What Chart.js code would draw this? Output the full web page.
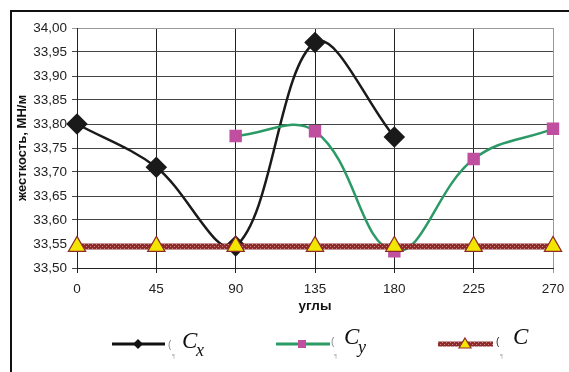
<!DOCTYPE html>
<html>
<head>
<meta charset="utf-8">
<script src="https://cdn.jsdelivr.net/npm/chart.js@4"></script>
<style>
  html, body { margin: 0; padding: 0; background: #fff; }
  #wrap { width: 569px; height: 372px; position: relative; }
</style>
</head>
<body>
<div id="wrap"><canvas id="chart" width="569" height="372"></canvas></div>
<script>
// data
const angles = [0, 45, 90, 135, 180, 225, 270];
const cxValues = [33.80, 33.71, 33.546, 33.97, 33.773, null, null];
const cyValues = [null, null, 33.775, 33.785, 33.535, 33.727, 33.79];
const cValues = [33.545, 33.545, 33.545, 33.545, 33.545, 33.545, 33.545];
const yTicks = [33.50, 33.55, 33.60, 33.65, 33.70, 33.75, 33.80, 33.85, 33.90, 33.95, 34.00];

const toPoints = vals => angles.map((a, i) => ({ x: a, y: vals[i] }));

// hatched dark red line like the excel pattern fill
function makeHatch() {
  const c = document.createElement('canvas');
  c.width = 4; c.height = 4;
  const g = c.getContext('2d');
  g.fillStyle = '#8e2a2a';
  g.fillRect(0, 0, 4, 4);
  g.fillStyle = '#c98a8a';
  g.fillRect(0, 0, 1, 1);
  g.fillRect(2, 2, 1, 1);
  return g.createPattern(c, 'repeat');
}
const hatch = makeHatch();

// frame around the whole chart + legend at the bottom
const framePlugin = {
  id: 'frame',
  beforeDraw(chart) {
    const ctx = chart.ctx;
    ctx.save();
    ctx.strokeStyle = '#111';
    ctx.lineWidth = 2;
    ctx.strokeRect(11, 11, 620, 420);
    ctx.restore();
  },
  afterDraw(chart) {
    const ctx = chart.ctx;
    const y = 344;
    ctx.save();
    // Cx
    ctx.strokeStyle = '#111'; ctx.lineWidth = 3;
    ctx.beginPath(); ctx.moveTo(112, y); ctx.lineTo(165, y); ctx.stroke();
    ctx.fillStyle = '#111';
    ctx.beginPath(); ctx.moveTo(138, y - 5); ctx.lineTo(143, y); ctx.lineTo(138, y + 5); ctx.lineTo(133, y); ctx.closePath(); ctx.fill();
    // Cy
    ctx.strokeStyle = '#2b9a66';
    ctx.beginPath(); ctx.moveTo(276, y); ctx.lineTo(330, y); ctx.stroke();
    ctx.fillStyle = '#c04f9f';
    ctx.fillRect(298, y - 4, 8, 8);
    // C
    ctx.strokeStyle = hatch; ctx.lineWidth = 5;
    ctx.beginPath(); ctx.moveTo(438, y); ctx.lineTo(493, y); ctx.stroke();
    ctx.fillStyle = '#f2e600'; ctx.strokeStyle = '#8e2a2a'; ctx.lineWidth = 1.2;
    ctx.beginPath(); ctx.moveTo(465, y - 6); ctx.lineTo(471, y + 4); ctx.lineTo(459, y + 4); ctx.closePath(); ctx.fill(); ctx.stroke();

    // labels
    ctx.fillStyle = '#111';
    ctx.textBaseline = 'alphabetic';
    ctx.font = 'italic 23px "Liberation Serif"';
    ctx.fillText('C', 182, 348);
    ctx.fillText('C', 344, 344);
    ctx.fillText('C', 513, 344);
    ctx.font = 'italic 18px "Liberation Serif"';
    ctx.fillText('x', 196, 356);
    ctx.fillText('y', 358, 353);
    ctx.fillStyle = '#888';
    ctx.font = '10px "Liberation Sans"';
    ctx.fillText('(', 168, 348);
    ctx.fillText('(', 331, 345);
    ctx.fillStyle = '#222';
    ctx.fillText('(', 496, 345);
    ctx.fillStyle = '#aaa';
    ctx.font = '6px "Liberation Sans"';
    ctx.fillText('¶', 172, 358);
    ctx.fillText('¶', 334, 358);
    ctx.fillText('¶', 500, 358);
    ctx.restore();
  }
};

new Chart(document.getElementById('chart'), {
  type: 'line',
  data: {
    datasets: [
      {
        label: 'Cx',
        data: toPoints(cxValues),
        borderColor: '#1a1a1a',
        borderWidth: 2.5,
        tension: 0.35,
        pointStyle: 'rectRot',
        pointRadius: 9,
        pointBackgroundColor: '#1a1a1a',
        pointBorderColor: '#1a1a1a',
        clip: false,
        order: 3
      },
      {
        label: 'Cy',
        data: toPoints(cyValues),
        borderColor: '#2b9a66',
        borderWidth: 2.5,
        tension: 0.4,
        pointStyle: 'rect',
        pointRadius: 7,
        pointBackgroundColor: '#c04f9f',
        pointBorderColor: '#c04f9f',
        clip: false,
        order: 2
      },
      {
        label: 'C',
        data: toPoints(cValues),
        borderColor: hatch,
        borderWidth: 6,
        tension: 0,
        pointStyle: 'triangle',
        pointRadius: 10,
        pointBackgroundColor: '#f2e600',
        pointBorderColor: '#8e2a2a',
        pointBorderWidth: 1.2,
        clip: false,
        order: 1
      }
    ]
  },
  options: {
    responsive: false,
    animation: false,
    layout: { autoPadding: false, padding: { left: 11, top: 28, right: 16, bottom: 56 } },
    plugins: {
      legend: { display: false },
      tooltip: { enabled: false }
    },
    scales: {
      x: {
        type: 'linear',
        min: 0,
        max: 270,
        afterFit: s => { s.height = 48; s.paddingLeft = 0; s.paddingRight = 0; },
        afterBuildTicks: s => { s.ticks = angles.map(v => ({ value: v })); },
        ticks: {
          color: '#222',
          font: { family: 'Liberation Sans', size: 13.5 },
          padding: 8
        },
        grid: {
          color: ctx => ctx.index === angles.length - 1 ? '#999' : '#222',
          lineWidth: 1,
          tickLength: 5
        },
        border: { color: '#222' },
        title: {
          display: true,
          text: 'углы',
          color: '#111',
          font: { family: 'Liberation Sans', size: 13.5, weight: 'bold' },
          padding: { top: 0, bottom: 2 }
        }
      },
      y: {
        min: 33.5,
        max: 34.0,
        afterFit: s => { s.width = 66; },
        afterBuildTicks: s => { s.ticks = yTicks.map(v => ({ value: v })); },
        ticks: {
          color: '#222',
          font: { family: 'Liberation Sans', size: 13.5 },
          padding: 5,
          callback: v => Number(v).toFixed(2).replace('.', ',')
        },
        grid: {
          color: ctx => ctx.index === yTicks.length - 1 ? '#999' : '#444',
          lineWidth: 1,
          tickLength: 5
        },
        border: { color: '#222' },
        title: {
          display: true,
          text: 'жесткость, МН/м',
          color: '#111',
          font: { family: 'Liberation Sans', size: 13, weight: 'bold' },
          padding: { bottom: 0 }
        }
      }
    }
  },
  plugins: [framePlugin]
});
</script>
</body>
</html>
